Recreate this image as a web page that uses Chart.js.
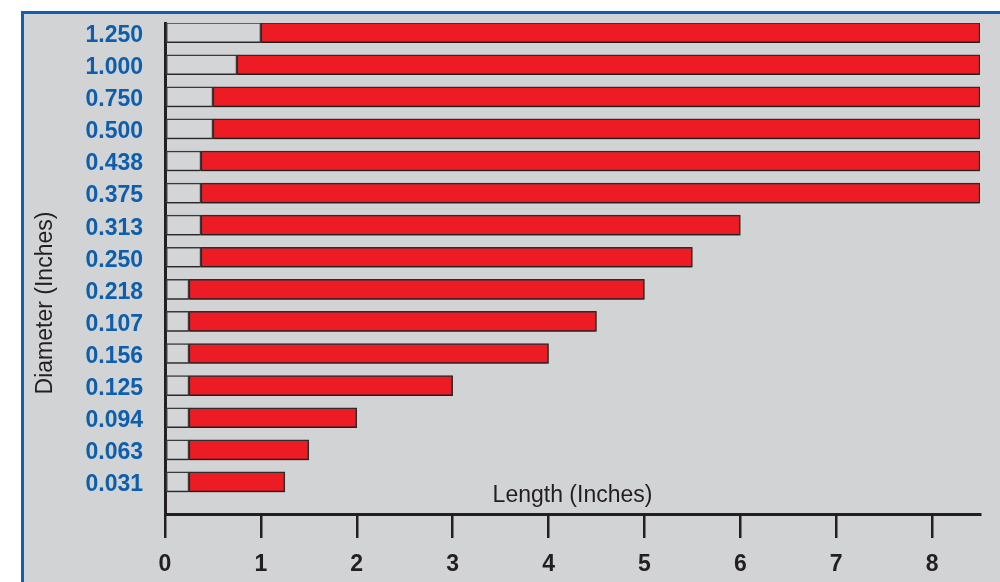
<!DOCTYPE html>
<html>
<head>
<meta charset="utf-8">
<script src="https://cdn.jsdelivr.net/npm/chart.js@4/dist/chart.umd.min.js"></script>
<style>
    html, body {
        margin: 0;
        padding: 0;
        background: #ffffff;
    }

    .frame {
        position: absolute;
        left: 21px;
        top: 11px;
        right: 0;
        bottom: 0;
        background: #d1d3d4;
        border-left: 3px solid #1060ae;
        border-top: 3px solid #1060ae;
    }

    #lengthChart {
        position: absolute;
        left: 0;
        top: 0;
    }
</style>
</head>
<body>
<div class="frame"></div>
<canvas id="lengthChart" width="1000" height="582"></canvas>
<script>
var diameters = ["1.250", "1.000", "0.750", "0.500", "0.438", "0.375", "0.313", "0.250",
    "0.218", "0.107", "0.156", "0.125", "0.094", "0.063", "0.031"];
var shankLengths = [1, 0.75, 0.5, 0.5, 0.375, 0.375, 0.375, 0.375,
    0.25, 0.25, 0.25, 0.25, 0.25, 0.25, 0.25];
var totalLengths = [8.5, 8.5, 8.5, 8.5, 8.5, 8.5, 6, 5.5,
    5, 4.5, 4, 3, 2, 1.5, 1.25];
var lengthTicks = [0, 1, 2, 3, 4, 5, 6, 7, 8];

(function() {
    "use strict";

    var dark = "#231f20";
    var blue = "#0d5fae";
    var fontFamily = "'Liberation Sans', Arial, sans-serif";

    var shankData = diameters.map(function(d, i) {
        return { x: [0, shankLengths[i]], y: i };
    });

    var lengthData = diameters.map(function(d, i) {
        return { x: [shankLengths[i], totalLengths[i]], y: i };
    });

    var barShadow = {
        id: "barShadow",
        beforeDatasetsDraw: function(chart) {
            var ctx = chart.ctx;
            ctx.save();
            ctx.shadowColor = "rgba(0, 0, 0, 0.3)";
            ctx.shadowBlur = 0;
            ctx.shadowOffsetX = 0;
            ctx.shadowOffsetY = 1.5;
        },
        afterDatasetsDraw: function(chart) {
            chart.ctx.restore();
        }
    };

    // axis titles sit in odd places in the original, so they are drawn by hand
    var axisTitles = {
        id: "axisTitles",
        afterDraw: function(chart) {
            var ctx = chart.ctx;
            var area = chart.chartArea;
            ctx.save();
            ctx.font = "23px " + fontFamily;
            ctx.fillStyle = dark;
            ctx.textAlign = "center";
            ctx.textBaseline = "alphabetic";
            ctx.fillText("Length (Inches)", (area.left + area.right) / 2, area.bottom - 12);

            ctx.translate(52, 303);
            ctx.rotate(-Math.PI / 2);
            ctx.fillText("Diameter (Inches)", 0, 0);
            ctx.restore();
        }
    };

    new Chart(document.getElementById("lengthChart"), {
        type: "bar",
        data: {
            datasets: [{
                    label: "Shank",
                    data: shankData,
                    backgroundColor: "#d4d5d7",
                    borderColor: "#3a3a3a",
                    borderWidth: 1.5,
                    borderSkipped: false,
                    barThickness: 20,
                    grouped: false
                },
                {
                    label: "Length",
                    data: lengthData,
                    backgroundColor: "#ed1c24",
                    borderColor: "#2b2b2b",
                    borderWidth: 1.5,
                    borderSkipped: false,
                    barThickness: 20,
                    grouped: false
                }
            ]
        },
        options: {
            indexAxis: "y",
            responsive: false,
            animation: false,
            layout: {
                padding: {
                    top: 23,
                    right: 20,
                    left: 0,
                    bottom: 0
                }
            },
            plugins: {
                legend: {
                    display: false
                },
                tooltip: {
                    enabled: false
                }
            },
            scales: {
                x: {
                    type: "linear",
                    min: 0,
                    max: 8.5,
                    afterFit: function(scale) {
                        scale.height = 68;
                        scale.paddingLeft = 0;
                        scale.paddingRight = 0;
                    },
                    afterBuildTicks: function(scale) {
                        scale.ticks = lengthTicks.map(function(v) {
                            return { value: v };
                        });
                    },
                    border: {
                        display: true,
                        color: dark,
                        width: 3
                    },
                    grid: {
                        display: true,
                        drawOnChartArea: false,
                        drawTicks: true,
                        tickLength: 24,
                        color: dark,
                        lineWidth: 2.5
                    },
                    ticks: {
                        padding: 13,
                        color: dark,
                        maxRotation: 0,
                        autoSkip: false,
                        font: {
                            family: fontFamily,
                            size: 23,
                            weight: "bold"
                        }
                    }
                },
                y: {
                    type: "linear",
                    reverse: true,
                    offset: false,
                    min: -0.3,
                    max: 15,
                    afterFit: function(scale) {
                        scale.width = 165;
                        scale.paddingTop = 0;
                        scale.paddingBottom = 0;
                    },
                    afterBuildTicks: function(scale) {
                        scale.ticks = diameters.map(function(d, i) {
                            return { value: i };
                        });
                    },
                    border: {
                        display: true,
                        color: dark,
                        width: 3
                    },
                    grid: {
                        display: false,
                        drawTicks: false
                    },
                    ticks: {
                        padding: 22,
                        labelOffset: 3,
                        color: blue,
                        autoSkip: false,
                        font: {
                            family: fontFamily,
                            size: 23,
                            weight: "bold"
                        },
                        callback: function(value) {
                            return diameters[value] || "";
                        }
                    }
                }
            }
        },
        plugins: [barShadow, axisTitles]
    });
})();
</script>
</body>
</html>
